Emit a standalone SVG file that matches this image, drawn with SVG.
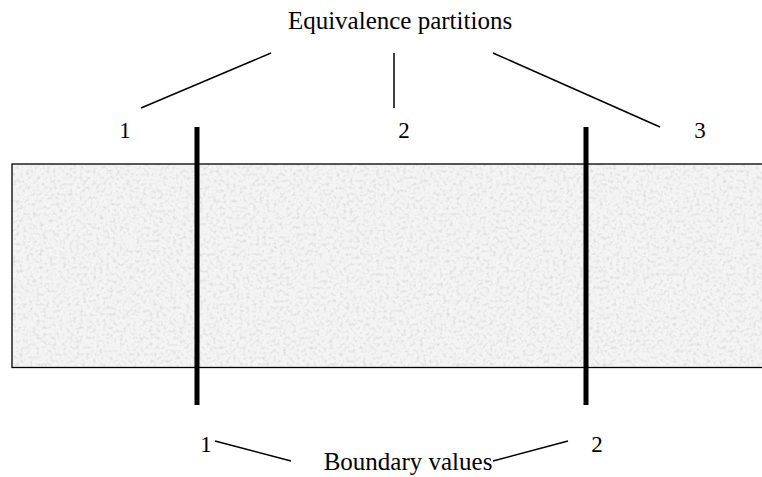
<svg xmlns="http://www.w3.org/2000/svg" width="762" height="477" viewBox="0 0 762 477">
  <style>
    .lbl { font-family: "Liberation Serif", "Times New Roman", serif; font-size: 25px; fill: #000; }
    .num { font-family: "Liberation Serif", "Times New Roman", serif; font-size: 23px; fill: #000; text-anchor: middle; }
    .conn { stroke: #000; stroke-width: 1.5; fill: none; }
    .bar { stroke: #000; stroke-width: 5; }
  </style>
  <defs>
    <filter id="grain" x="0" y="0" width="100%" height="100%">
      <feTurbulence type="fractalNoise" baseFrequency="0.3" numOctaves="2" seed="5" result="n"/>
      <feColorMatrix in="n" type="matrix" values="0 0 0 0 0.6  0 0 0 0 0.6  0 0 0 0 0.6  1.6 0 0 0 -0.75" result="g"/>
      <feComposite in="g" in2="SourceGraphic" operator="in" result="gc"/>
      <feMerge><feMergeNode in="SourceGraphic"/><feMergeNode in="gc"/></feMerge>
    </filter>
  </defs>

  <g id="range">
    <rect x="12" y="164" width="760" height="203.5" fill="#f4f4f4" filter="url(#grain)"/>
    <rect x="12" y="164" width="760" height="203.5" fill="none" stroke="#000" stroke-width="1.3"/>
  </g>

  <g id="boundary-1"><line class="bar" x1="197" y1="127" x2="197" y2="405"/></g>
  <g id="boundary-2"><line class="bar" x1="586" y1="127" x2="586" y2="405"/></g>

  <g id="equivalence-title"><text class="lbl" x="400" y="29" text-anchor="middle">Equivalence partitions</text></g>
  <g id="partition-1"><text class="num" x="125" y="138">1</text></g>
  <g id="partition-2"><text class="num" x="404" y="138">2</text></g>
  <g id="partition-3"><text class="num" x="700" y="138">3</text></g>

  <g id="boundary-title"><text class="lbl" x="408" y="470" text-anchor="middle">Boundary values</text></g>
  <g id="boundary-label-1"><text class="num" x="206" y="452">1</text></g>
  <g id="boundary-label-2"><text class="num" x="597" y="452">2</text></g>

  <g id="connectors">
    <line class="conn" x1="271" y1="53" x2="141" y2="108"/>
    <line class="conn" x1="394" y1="53" x2="394" y2="108"/>
    <line class="conn" x1="493" y1="53" x2="660" y2="127"/>
    <line class="conn" x1="215" y1="441" x2="291" y2="461"/>
    <line class="conn" x1="493" y1="461" x2="568" y2="441"/>
  </g>
</svg>
